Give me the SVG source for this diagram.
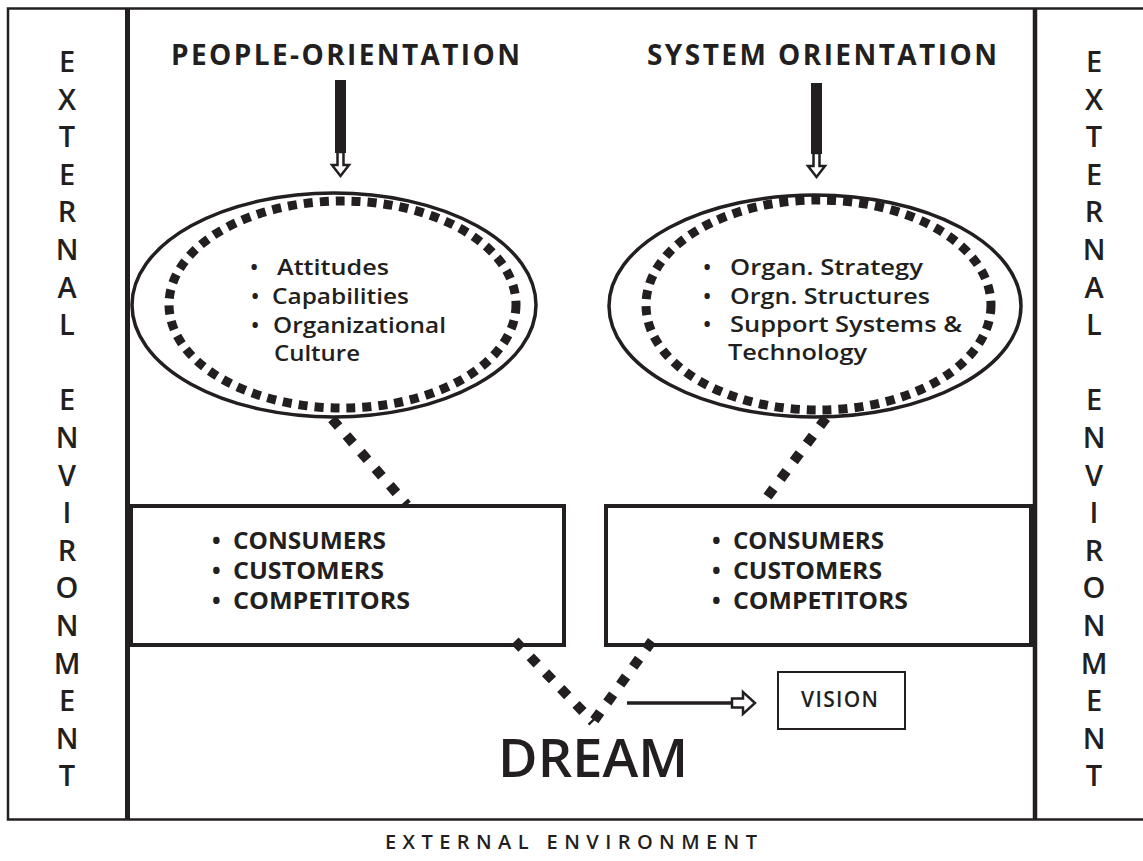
<svg xmlns="http://www.w3.org/2000/svg" width="1143" height="861" viewBox="0 0 1143 861">
<style>
.t{font-family:"Open Sans","Liberation Sans",sans-serif;font-weight:600;fill:#231f20}
.b{font-weight:700}
.vert{font-size:29px;text-anchor:middle}
.title{font-size:28px;font-weight:700}
.ell-t{font-size:22px}
.box-t{font-size:23px}
.ln{fill:none;stroke:#231f20}
.ell{fill:none;stroke:#231f20;stroke-width:3.5}
.dot{fill:none;stroke:#231f20;stroke-width:9;stroke-dasharray:9 7}
.conn{fill:none;stroke:#231f20;stroke-width:10;stroke-dasharray:10 12}
.box{fill:none;stroke:#231f20;stroke-width:4}
.head{fill:#fff;stroke:#231f20;stroke-width:2.5;stroke-linejoin:miter}
</style>
<rect width="1143" height="861" fill="#fff"/>

<g id="frame">
<path class="ln" stroke-width="2.5" d="M1143,8.5 H8 V819.5 H1143"/>
<path class="ln" stroke-width="5" d="M127.5,8 V820"/>
<path class="ln" stroke-width="4.5" d="M1035,8 V820"/>
</g>

<g id="env-left" class="t vert">
<text x="67" y="72">E</text><text x="67" y="109.6">X</text><text x="67" y="147.2">T</text><text x="67" y="184.8">E</text><text x="67" y="222.4">R</text><text x="67" y="260">N</text><text x="67" y="297.6">A</text><text x="67" y="335.2">L</text>
<text x="67" y="410.4">E</text><text x="67" y="448">N</text><text x="67" y="485.6">V</text><text x="67" y="523.2">I</text><text x="67" y="560.8">R</text><text x="67" y="598.4">O</text><text x="67" y="636">N</text><text x="67" y="673.6">M</text><text x="67" y="711.2">E</text><text x="67" y="748.8">N</text><text x="67" y="786.4">T</text>
</g>
<g id="env-right" class="t vert">
<text x="1094" y="72">E</text><text x="1094" y="109.6">X</text><text x="1094" y="147.2">T</text><text x="1094" y="184.8">E</text><text x="1094" y="222.4">R</text><text x="1094" y="260">N</text><text x="1094" y="297.6">A</text><text x="1094" y="335.2">L</text>
<text x="1094" y="410.4">E</text><text x="1094" y="448">N</text><text x="1094" y="485.6">V</text><text x="1094" y="523.2">I</text><text x="1094" y="560.8">R</text><text x="1094" y="598.4">O</text><text x="1094" y="636">N</text><text x="1094" y="673.6">M</text><text x="1094" y="711.2">E</text><text x="1094" y="748.8">N</text><text x="1094" y="786.4">T</text>
</g>

<g id="people-orientation">
<text class="t title" x="171" y="65" textLength="349" lengthAdjust="spacing">PEOPLE-ORIENTATION</text>
<rect x="335" y="80" width="11" height="73" fill="#231f20"/>
<polygon class="head" points="337.5,152 337.5,165 332,165 340.5,176 349,165 343.5,165 343.5,152"/>
</g>

<g id="system-orientation">
<text class="t title" x="647" y="65" textLength="350" lengthAdjust="spacing">SYSTEM ORIENTATION</text>
<rect x="811" y="83" width="11" height="71" fill="#231f20"/>
<polygon class="head" points="813.5,153 813.5,166 808,166 816.5,177 825,166 819.5,166 819.5,153"/>
</g>

<g id="people-ellipse">
<ellipse class="ell" cx="334" cy="305" rx="202" ry="112"/>
<ellipse class="dot" cx="342.5" cy="304.5" rx="173.5" ry="103.5"/>
<g class="t ell-t">
<text x="250" y="275">•</text><text x="277" y="275" textLength="112" lengthAdjust="spacingAndGlyphs">Attitudes</text>
<text x="251" y="304">•</text><text x="272" y="304" textLength="137" lengthAdjust="spacingAndGlyphs">Capabilities</text>
<text x="251" y="333">•</text><text x="273" y="333" textLength="173" lengthAdjust="spacingAndGlyphs">Organizational</text>
<text x="274" y="361" textLength="86" lengthAdjust="spacingAndGlyphs">Culture</text>
</g>
</g>

<g id="system-ellipse">
<ellipse class="ell" cx="815" cy="306" rx="206" ry="111"/>
<ellipse class="dot" cx="818.5" cy="305" rx="172.5" ry="105"/>
<g class="t ell-t">
<text x="703" y="275">•</text><text x="730" y="275" textLength="193" lengthAdjust="spacingAndGlyphs">Organ. Strategy</text>
<text x="703" y="304">•</text><text x="730" y="304" textLength="200" lengthAdjust="spacingAndGlyphs">Orgn. Structures</text>
<text x="703" y="332">•</text><text x="730" y="332" textLength="232" lengthAdjust="spacingAndGlyphs">Support Systems &amp;</text>
<text x="728" y="360" textLength="139" lengthAdjust="spacingAndGlyphs">Technology</text>
</g>
</g>

<g id="market-left">
<rect class="box" x="131" y="506" width="433" height="139"/>
<g class="t b box-t">
<text x="212" y="549">•</text><text x="233" y="549" textLength="153" lengthAdjust="spacingAndGlyphs">CONSUMERS</text>
<text x="212" y="579">•</text><text x="233" y="579" textLength="151" lengthAdjust="spacingAndGlyphs">CUSTOMERS</text>
<text x="212" y="609">•</text><text x="233" y="609" textLength="177" lengthAdjust="spacingAndGlyphs">COMPETITORS</text>
</g>
</g>

<g id="market-right">
<rect class="box" x="606" y="506" width="425" height="139"/>
<g class="t b box-t">
<text x="712" y="549">•</text><text x="733" y="549" textLength="151" lengthAdjust="spacingAndGlyphs">CONSUMERS</text>
<text x="712" y="579">•</text><text x="733" y="579" textLength="149" lengthAdjust="spacingAndGlyphs">CUSTOMERS</text>
<text x="712" y="609">•</text><text x="733" y="609" textLength="175" lengthAdjust="spacingAndGlyphs">COMPETITORS</text>
</g>
</g>

<g id="dream">
<text class="t" x="498" y="777" font-size="52" textLength="190" lengthAdjust="spacingAndGlyphs">DREAM</text>
</g>

<g id="vision">
<rect x="778" y="672" width="127" height="57" fill="none" stroke="#231f20" stroke-width="2"/>
<text class="t" x="801" y="707" font-size="21" font-weight="400" textLength="77" lengthAdjust="spacing">VISION</text>
</g>

<g id="connectors">
<path class="conn" d="M332,419 L407,505"/>
<path class="conn" d="M826,418 L762,504"/>
<path class="conn" d="M515,641 L593,722"/>
<path class="conn" d="M652,641 L593,722"/>
<path class="ln" stroke-width="3.5" d="M627,703 H733"/>
<polygon class="head" points="732,698.5 743,698.5 743,692 755,703 743,714 743,707.5 732,707.5"/>
</g>

<g id="external-environment-label">
<text class="t" x="385" y="849" font-size="20" font-weight="600" textLength="372" lengthAdjust="spacing">EXTERNAL ENVIRONMENT</text>
</g>
</svg>
